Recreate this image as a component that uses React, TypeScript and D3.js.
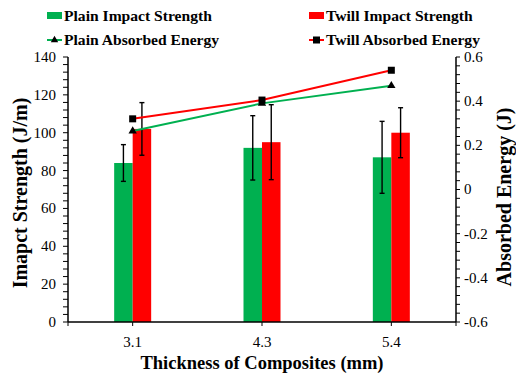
import React from 'react';
import * as d3 from 'd3';

const thickness = ['3.1', '4.3', '5.4'];
const plainStrength = [84, 92, 87];
const twillStrength = [102, 95, 100];
const plainStrengthErr = [9.7, 17, 19];
const twillStrengthErr = [13.9, 19.8, 13.2];
const plainEnergy = [0.265, 0.39, 0.47];
const twillEnergy = [0.32, 0.405, 0.54];
const leftTicks = [0, 20, 40, 60, 80, 100, 120, 140];
const rightTicks = [-0.6, -0.4, -0.2, 0, 0.2, 0.4, 0.6];
const leftMinorTicks = d3.range(0, 141, 4);
const rightMinorTicks = d3.range(-30, 31, 2).map(v => v / 50);

const GREEN = '#00B050';
const RED = '#FF0000';
const FONT = 'Liberation Serif';

const width = 516;
const height = 375;
const margin = { top: 57, right: 60, bottom: 53, left: 68 };

const x = d3.scaleBand()
  .domain(thickness)
  .range([margin.left, width - margin.right])
  .padding(0);

const yLeft = d3.scaleLinear()
  .domain([0, 140])
  .range([height - margin.bottom, margin.top]);

const yRight = d3.scaleLinear()
  .domain([-0.6, 0.6])
  .range([height - margin.bottom, margin.top]);

const barW = 18.5;
const center = (c: string) => (x(c) as number) + x.bandwidth() / 2;

const lineGen = d3.line<number>()
  .x((d, i) => center(thickness[i]))
  .y(d => yRight(d));

const triPath = d3.symbol().type(d3.symbolTriangle).size(30)() as string;
const triLegend = d3.symbol().type(d3.symbolTriangle).size(24)() as string;

const series = [
  { vals: plainStrength, errs: plainStrengthErr, color: GREEN, off: -barW },
  { vals: twillStrength, errs: twillStrengthErr, color: RED, off: 0 },
];

const legendItems = [
  { label: 'Plain Impact Strength', x: 47, y: 16, kind: 'bar', color: GREEN },
  { label: 'Twill Impact Strength', x: 309, y: 16, kind: 'bar', color: RED },
  { label: 'Plain Absorbed Energy', x: 47, y: 40, kind: 'tri', color: GREEN },
  { label: 'Twill Absorbed Energy', x: 309, y: 40, kind: 'sq', color: RED },
];

const fmtRight = (v: number) => (v === 0 ? '0' : v.toFixed(1));

// text is set at 20px and scaled, which keeps the serif face
const TICK_SCALE = 0.75;
const LEGEND_SCALE = 0.78;

const App = () => {
  const x0 = margin.left;
  const x1 = width - margin.right;
  const yb = height - margin.bottom;

  return (
    <svg
      width={width}
      height={height}
      style={{ position: 'absolute', left: 0, top: 0, background: '#fff' }}
    >
      {/* bars */}
      {series.map((s, si) => (
        <g key={'bars' + si}>
          {thickness.map((c, i) => (
            <rect
              key={c}
              x={center(c) + s.off}
              y={yLeft(s.vals[i])}
              width={barW}
              height={yLeft(0) - yLeft(s.vals[i])}
              fill={s.color}
            />
          ))}
        </g>
      ))}

      {/* error bars */}
      {series.map((s, si) => (
        <g key={'err' + si} stroke="#000" strokeWidth={1.4}>
          {thickness.map((c, i) => {
            const cx = center(c) + s.off + barW / 2;
            const top = yLeft(s.vals[i] + s.errs[i]);
            const bot = yLeft(s.vals[i] - s.errs[i]);
            return (
              <g key={c}>
                <line x1={cx} x2={cx} y1={top} y2={bot} />
                <line x1={cx - 2.5} x2={cx + 2.5} y1={top} y2={top} />
                <line x1={cx - 2.5} x2={cx + 2.5} y1={bot} y2={bot} />
              </g>
            );
          })}
        </g>
      ))}

      {/* energy lines */}
      <path d={lineGen(plainEnergy) as string} fill="none" stroke={GREEN} strokeWidth={2} />
      <path d={lineGen(twillEnergy) as string} fill="none" stroke={RED} strokeWidth={2} />
      {plainEnergy.map((v, i) => (
        <path key={'t' + i} d={triPath} transform={`translate(${center(thickness[i])},${yRight(v)})`} fill="#000" />
      ))}
      {twillEnergy.map((v, i) => (
        <rect key={'s' + i} x={center(thickness[i]) - 3.5} y={yRight(v) - 3.5} width={7} height={7} fill="#000" />
      ))}

      {/* left axis */}
      <g stroke="#000">
        <line x1={x0} x2={x0} y1={margin.top} y2={yb} strokeWidth={1.5} />
        {leftMinorTicks.map(t => (
          <line key={t} x1={x0 - 5} x2={x0} y1={yLeft(t)} y2={yLeft(t)} strokeWidth={1} />
        ))}
      </g>
      {leftTicks.map(t => (
        <text
          key={t}
          transform={`translate(${x0 - 12},${yLeft(t)}) scale(${TICK_SCALE})`}
          dy="0.33em"
          textAnchor="end"
          fontFamily={FONT}
          fontSize={20}
          fill="#000"
        >
          {t}
        </text>
      ))}

      {/* right axis */}
      <g stroke="#000">
        <line x1={x1} x2={x1} y1={margin.top} y2={yb} strokeWidth={1.5} />
        {rightMinorTicks.map(t => (
          <line key={t} x1={x1} x2={x1 + 4} y1={yRight(t)} y2={yRight(t)} strokeWidth={1} />
        ))}
      </g>
      {rightTicks.map(t => (
        <text
          key={t}
          transform={`translate(${x1 + 8},${yRight(t)}) scale(${TICK_SCALE})`}
          dy="0.33em"
          textAnchor="start"
          fontFamily={FONT}
          fontSize={20}
          fill="#000"
        >
          {fmtRight(t)}
        </text>
      ))}

      {/* bottom axis */}
      <g stroke="#000">
        <line x1={x0} x2={x1} y1={yb} y2={yb} strokeWidth={1.5} />
        {[x0, ...thickness.map(center), x1].map((px, i) => (
          <line key={i} x1={px} x2={px} y1={yb} y2={yb + 4} strokeWidth={1} />
        ))}
      </g>
      {thickness.map(c => (
        <text
          key={c}
          transform={`translate(${center(c)},${yb + 25}) scale(${TICK_SCALE})`}
          textAnchor="middle"
          fontFamily={FONT}
          fontSize={20}
          fill="#000"
        >
          {c}
        </text>
      ))}

      {/* titles */}
      <text transform="translate(262,369) scale(0.925)" textAnchor="middle" fontFamily={FONT} fontSize={20} fontWeight="bold">
        Thickness of Composites (mm)
      </text>
      <text transform="translate(26.5,193) rotate(-90)" textAnchor="middle" fontFamily={FONT} fontSize={20} fontWeight="bold">
        Imapct Strength (J/m)
      </text>
      <text transform="translate(511,197) rotate(-90)" textAnchor="middle" fontFamily={FONT} fontSize={20} fontWeight="bold">
        Absorbed Energy (J)
      </text>

      {/* legend */}
      {legendItems.map(it => (
        <g key={it.label}>
          {it.kind === 'bar' ? (
            <rect x={it.x} y={it.y - 4} width={15} height={7} fill={it.color} />
          ) : (
            <>
              <line x1={it.x} x2={it.x + 15} y1={it.y} y2={it.y} stroke={it.color} strokeWidth={2} />
              {it.kind === 'tri' ? (
                <path d={triLegend} transform={`translate(${it.x + 7.5},${it.y})`} fill="#000" />
              ) : (
                <rect x={it.x + 4} y={it.y - 3.5} width={7} height={7} fill="#000" />
              )}
            </>
          )}
          <text
            transform={`translate(${it.x + 17},${it.y + 5}) scale(${LEGEND_SCALE})`}
            fontFamily={FONT}
            fontSize={20}
            fontWeight="bold"
          >
            {it.label}
          </text>
        </g>
      ))}
    </svg>
  );
};

export default App;
